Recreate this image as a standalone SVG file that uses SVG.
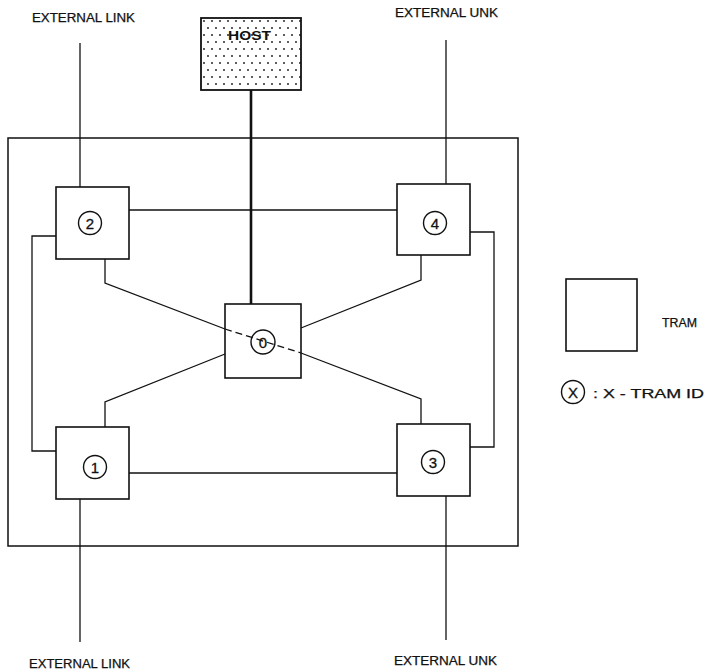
<svg xmlns="http://www.w3.org/2000/svg" width="705" height="671" viewBox="0 0 705 671">
<defs>
<pattern id="dots" x="201" y="18" width="16" height="14" patternUnits="userSpaceOnUse">
<circle cx="3" cy="3" r="0.9" fill="#111"/>
<circle cx="11" cy="3" r="0.9" fill="#111"/>
<circle cx="7" cy="10" r="0.9" fill="#111"/>
<circle cx="15" cy="10" r="0.9" fill="#111"/>
</pattern>
<style>
.box{fill:#fff;stroke:#111;stroke-width:1.6}
.ln{fill:none;stroke:#111;stroke-width:1.3}
.id{fill:#fff;stroke:#111;stroke-width:1.4}
.t{font-family:"Liberation Sans",Arial,sans-serif;font-size:12px;fill:#111;stroke:#111;stroke-width:0.25}
.n{font-family:"Liberation Sans",Arial,sans-serif;font-size:15px;fill:#111;text-anchor:middle;stroke:#111;stroke-width:0.3}
</style>
</defs>
<rect width="705" height="671" fill="#fff"/>

<g id="board">
<rect x="8" y="138" width="510" height="408" fill="none" stroke="#111" stroke-width="1.5"/>
</g>

<g id="connectors">
<line class="ln" x1="80" y1="43" x2="80" y2="187"/>
<line class="ln" x1="446" y1="40" x2="446" y2="184"/>
<line class="ln" x1="80" y1="499" x2="80" y2="642"/>
<line class="ln" x1="446" y1="496" x2="446" y2="640"/>
<line x1="251" y1="90" x2="251" y2="304" stroke="#111" stroke-width="2.6"/>
<line class="ln" x1="129" y1="210" x2="397" y2="210"/>
<line class="ln" x1="129" y1="473" x2="397" y2="473"/>
<polyline class="ln" points="56,236 32,236 32,451 56,451"/>
<polyline class="ln" points="470,232 494,232 494,447 470,447"/>
<polyline class="ln" points="105,259 105,283 225,329"/>
<polyline class="ln" points="301,353 421,399 421,424"/>
<polyline class="ln" points="421,255 421,280 301,328"/>
<polyline class="ln" points="105,427 105,402 225,354"/>
</g>

<g id="host">
<rect x="201" y="18" width="100" height="72" fill="url(#dots)" stroke="#111" stroke-width="1.8"/>
<text x="228" y="40" font-family="'Liberation Sans',Arial,sans-serif" font-size="13.5" font-weight="bold" fill="#111" textLength="43" lengthAdjust="spacingAndGlyphs">HOST</text>
</g>

<g id="tram2">
<rect class="box" x="56" y="187" width="73" height="72"/>
<circle class="id" cx="90" cy="223" r="11.5"/>
<text class="n" x="90" y="228.5">2</text>
</g>

<g id="tram4">
<rect class="box" x="397" y="184" width="73" height="71"/>
<circle class="id" cx="435" cy="223" r="11.5"/>
<text class="n" x="435" y="228.5">4</text>
</g>

<g id="tram1">
<rect class="box" x="56" y="427" width="73" height="72"/>
<circle class="id" cx="95" cy="467" r="11.5"/>
<text class="n" x="95" y="472.5">1</text>
</g>

<g id="tram3">
<rect class="box" x="397" y="424" width="73" height="72"/>
<circle class="id" cx="433" cy="462" r="11.5"/>
<text class="n" x="433" y="467.5">3</text>
</g>

<g id="tram0">
<rect class="box" x="225" y="304" width="76" height="74"/>
<circle class="id" cx="263" cy="342" r="12"/>
<text class="n" x="263" y="347.5">0</text>
<line x1="225" y1="329" x2="301" y2="353" stroke="#111" stroke-width="1.3" stroke-dasharray="7,4"/>
</g>

<g id="labels">
<text class="t" x="32" y="22" textLength="103" lengthAdjust="spacingAndGlyphs">EXTERNAL LINK</text>
<text class="t" x="395" y="17" textLength="103" lengthAdjust="spacingAndGlyphs">EXTERNAL UNK</text>
<text class="t" x="29" y="668" textLength="101" lengthAdjust="spacingAndGlyphs">EXTERNAL LINK</text>
<text class="t" x="394" y="665" textLength="103" lengthAdjust="spacingAndGlyphs">EXTERNAL UNK</text>
</g>

<g id="legend">
<rect class="box" x="566" y="279" width="71" height="72"/>
<text class="t" x="662" y="327" textLength="35" lengthAdjust="spacingAndGlyphs">TRAM</text>
<circle class="id" cx="573" cy="392" r="11.5"/>
<text class="n" x="573" y="397.5">X</text>
<text class="t" x="593" y="398" textLength="111" lengthAdjust="spacingAndGlyphs">: X - TRAM ID</text>
</g>
</svg>
